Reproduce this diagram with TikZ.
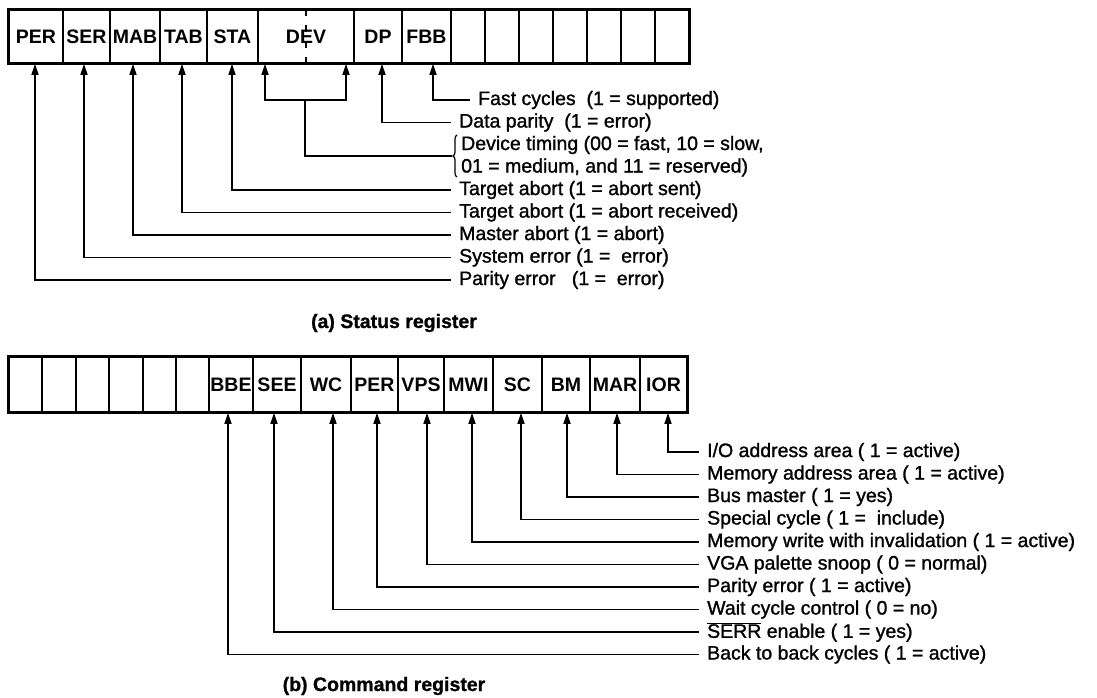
\documentclass[tikz,border=0pt]{standalone}
\usepackage{fontspec}
\setmainfont{Liberation Sans}
\newfontfamily\lblfont[FakeBold=1.2]{Liberation Sans}
\newfontfamily\capfont[FakeBold=1]{Liberation Sans Bold}
\usetikzlibrary{arrows.meta,decorations.pathreplacing}
\begin{document}
\begin{tikzpicture}[x=1pt,y=-1pt,
  cell/.style={draw, line width=1.6pt, inner sep=0pt, font=\bfseries\fontsize{19.5}{22}\selectfont},
  scell/.style={cell, minimum height=53pt},
  ccell/.style={cell, minimum height=55pt},
  lbl/.style={anchor=west, inner xsep=8pt, inner ysep=0pt, font=\lblfont\fontsize{19.5}{22.5}\selectfont},
  arr/.style={line width=1.5pt, -{Triangle[length=11pt,width=7pt]}},
  conn/.style={line width=1.5pt},
  bracepath/.style={line width=1.2pt, decorate, decoration={brace, amplitude=4pt}},
  captxt/.style={font=\capfont\fontsize{19.5}{22}\selectfont}]
\useasboundingbox (0,0) rectangle (1097,698);
% ---------------- Status register ----------------
\foreach \nm/\l/\r/\t in {sPER/9/63/PER, sSER/63/110/SER, sMAB/110/160/MAB, sTAB/160/207/TAB,
  sSTA/207/258/STA, sDEV/258/354/DEV, sDP/354/402/DP, sFBB/402/451/FBB,
  sEa/451/485/, sEb/485/519/, sEc/519/553/, sEd/553/587/, sEe/587/621/, sEf/621/655/, sEg/655/689/}
  \node[scell, minimum width={(\r-\l)*1pt}] (\nm) at ({(\l+\r)/2},36.5) {\t};
\draw[line width=3.2pt] (sPER.north west) rectangle (sEg.south east);
\draw[line width=1.2pt, dash pattern=on 7pt off 9pt] (sDEV.north) -- (sDEV.south);
% labels
\node[lbl] (lFBB) at (470,100) {Fast cycles\ \ (1 = supported)};
\node[lbl] (lDP)  at (451,122.5) {Data parity\ \ (1 = error)};
\node[lbl, inner xsep=0pt] (lDEVa) at (461,145) {Device timing (00 = fast, 10 = slow,};
\node[lbl, inner xsep=0pt] (lDEVb) at (461,167.5) {01 = medium, and 11 = reserved)};
\draw[bracepath] (457,177) -- (457,135);
\coordinate (devtip) at (452,156);
\node[lbl] (lSTA) at (451,190) {Target abort (1 = abort sent)};
\node[lbl] (lTAB) at (451,212.5) {Target abort (1 = abort received)};
\node[lbl] (lMAB) at (451,235) {Master abort (1 = abort)};
\node[lbl] (lSER) at (451,257.5) {System error (1 = \ error)};
\node[lbl] (lPER) at (451,280) {Parity error\ \ \ (1 = \ error)};
% connectors
\draw[arr] (lFBB.west) -| ([xshift=6.5pt]sFBB.south);
\draw[arr] (lDP.west)  -| ([xshift=4pt]sDP.south);
\coordinate (devbr) at (305,100);
\draw[conn] (devtip) -| (devbr);
\draw[arr] (devbr) -| ([xshift=-41pt]sDEV.south);
\draw[arr] (devbr) -| ([xshift=40pt]sDEV.south);
\draw[arr] (lSTA.west) -| ([xshift=-0.5pt]sSTA.south);
\draw[arr] (lTAB.west) -| ([xshift=-1.5pt]sTAB.south);
\draw[arr] (lMAB.west) -| ([xshift=-2pt]sMAB.south);
\draw[arr] (lSER.west) -| ([xshift=-2.5pt]sSER.south);
\draw[arr] (lPER.west) -| ([xshift=-1pt]sPER.south);
\node[captxt] (capa) at (394,323) {(a) Status register};
% ---------------- Command register ----------------
\foreach \nm/\l/\r/\t in {cEa/9/42/, cEb/42/76/, cEc/76/109/, cEd/109/143/, cEe/143/176/, cEf/176/209/,
  cBBE/209/253/BBE, cSEE/253/301/SEE, cWC/301/351/WC, cPER/351/398/PER, cVPS/398/444/VPS,
  cMWI/444/493/MWI, cSC/493/542/SC, cBM/542/590/BM, cMAR/590/640/MAR, cIOR/640/687/IOR}
  \node[ccell, minimum width={(\r-\l)*1pt}] (\nm) at ({(\l+\r)/2},384.5) {\t};
\draw[line width=3.2pt] (cEa.north west) rectangle (cIOR.south east);
\node[lbl] (lIOR) at (699,452) {I/O address area ( 1 = active)};
\node[lbl] (lMAR) at (699,474.5) {Memory address area ( 1 = active)};
\node[lbl] (lBM)  at (699,497) {Bus master ( 1 = yes)};
\node[lbl] (lSC)  at (699,519.5) {Special cycle ( 1 = \ include)};
\node[lbl] (lMWI) at (699,542) {Memory write with invalidation ( 1 = active)};
\node[lbl] (lVPS) at (699,564.5) {VGA palette snoop ( 0 = normal)};
\node[lbl] (lPERc) at (699,587) {Parity error ( 1 = active)};
\node[lbl] (lWC)  at (699,609.5) {Wait cycle control ( 0 = no)};
\node[lbl] (lSEE) at (699,632) {$\overline{\hbox{\lblfont SERR}}$ enable ( 1 = yes)};
\node[lbl] (lBBE) at (699,654.5) {Back to back cycles ( 1 = active)};
\draw[arr] (lIOR.west) -| ([xshift=4.5pt]cIOR.south);
\draw[arr] (lMAR.west) -| ([xshift=2pt]cMAR.south);
\draw[arr] (lBM.west)  -| ([xshift=1pt]cBM.south);
\draw[arr] (lSC.west)  -| ([xshift=3.5pt]cSC.south);
\draw[arr] (lMWI.west) -| ([xshift=3.5pt]cMWI.south);
\draw[arr] (lVPS.west) -| ([xshift=6pt]cVPS.south);
\draw[arr] (lPERc.west) -| ([xshift=2.5pt]cPER.south);
\draw[arr] (lWC.west)  -| ([xshift=7pt]cWC.south);
\draw[arr] (lSEE.west) -| ([xshift=-3pt]cSEE.south);
\draw[arr] (lBBE.west) -| ([xshift=-3pt]cBBE.south);
\node[captxt] (capb) at (384,686) {(b) Command register};
\end{tikzpicture}
\end{document}
